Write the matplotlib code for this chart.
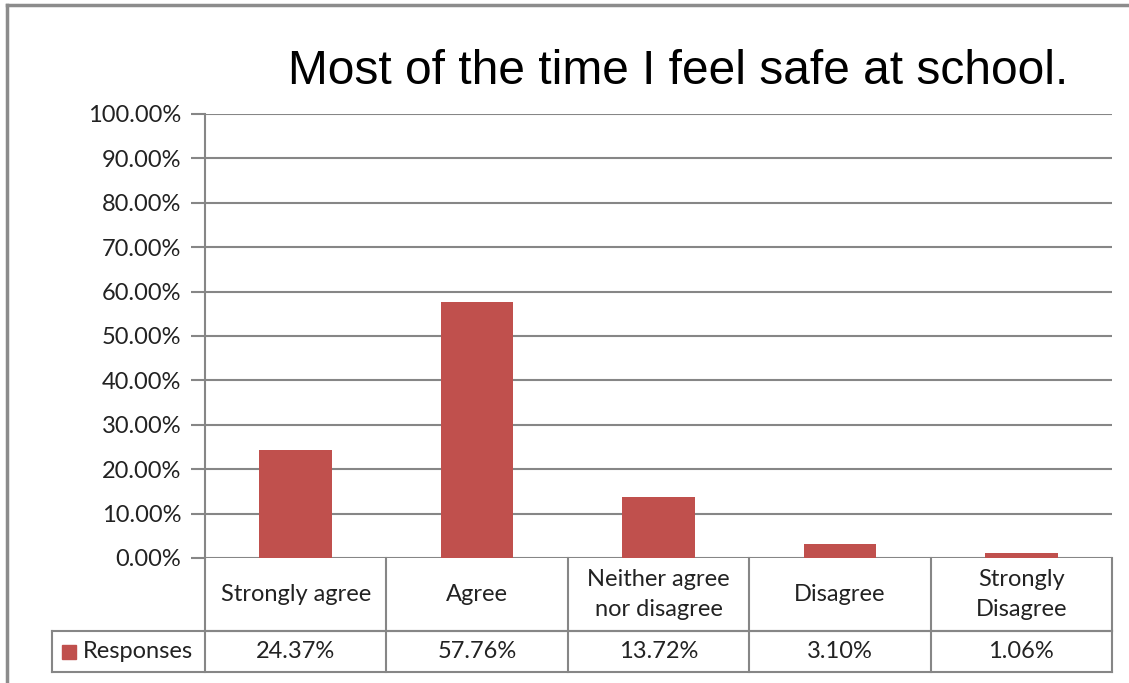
import matplotlib.pyplot as plt
from matplotlib.patches import Rectangle

categories = ["Strongly agree", "Agree", "Neither agree\nnor disagree", "Disagree", "Strongly\nDisagree"]
responses = [24.37, 57.76, 13.72, 3.10, 1.06]
value_labels = ["24.37%", "57.76%", "13.72%", "3.10%", "1.06%"]
yticks = [0, 10, 20, 30, 40, 50, 60, 70, 80, 90, 100]

W, H = 1129, 683
bar_color = "#C0504D"
grid_color = "#868686"
font = ["Lato", "DejaVu Sans"]
fs = 17

fig = plt.figure(figsize=(W / 100, H / 100), dpi=100)

# plot area in pixels
left, right, top, bottom = 205, 1112, 114, 558
ax = fig.add_axes([left / W, 1 - bottom / H, (right - left) / W, (bottom - top) / H])

x = list(range(len(categories)))
ax.bar(x, responses, width=0.4, color=bar_color, zorder=3)
ax.set_xlim(-0.5, len(categories) - 0.5)
ax.set_ylim(0, 100)
ax.set_yticks(yticks)
ax.set_yticklabels([f"{v:.2f}%" for v in yticks], fontsize=fs, family=font, color="#222222")
ax.set_xticks([])
ax.tick_params(axis="y", length=10, width=1.5, color=grid_color, pad=7)
ax.yaxis.grid(True, color=grid_color, linewidth=1.5, zorder=0)
for s in ["top", "right", "bottom"]:
    ax.spines[s].set_visible(False)
ax.spines["left"].set_color(grid_color)
ax.spines["left"].set_linewidth(1.5)

# data table below the axes (pixel -> axes fraction)
def fy(py):
    return (bottom - py) / (bottom - top)

def fx(px):
    return (px - left) / (right - left)

row1, row2 = 631, 672
lk = dict(color=grid_color, linewidth=1.5, transform=ax.transAxes, clip_on=False)
ax.plot([0, 1], [fy(row1), fy(row1)], **lk)
ax.plot([fx(52), 1], [fy(row1), fy(row1)], **lk)
ax.plot([fx(52), 1], [fy(row2), fy(row2)], **lk)
ax.plot([fx(52), fx(52)], [fy(row1), fy(row2)], **lk)
n = len(categories)
for i in range(n + 1):
    xx = i / n
    ax.plot([xx, xx], [0, fy(row2)], **lk)

for i in range(n):
    cx = (i + 0.5) / n
    ax.text(cx, fy((bottom + row1) / 2), categories[i], transform=ax.transAxes,
            ha="center", va="center", fontsize=fs, family=font, color="#222222",
            linespacing=1.55)
    ax.text(cx, fy((row1 + row2) / 2), value_labels[i], transform=ax.transAxes,
            ha="center", va="center", fontsize=fs, family=font, color="#222222")

# legend key in table
fig.patches.append(Rectangle((62 / W, 1 - 659 / H), 14 / W, 14 / H,
                             transform=fig.transFigure, color=bar_color))
fig.text(83 / W, 1 - 652 / H, "Responses", ha="left", va="center",
         fontsize=fs, family=font, color="#222222")

# title
fig.text(678 / W, 1 - 72 / H, "Most of the time I feel safe at school.",
         ha="center", va="center", fontsize=34.5, family=["Liberation Sans", "DejaVu Sans"])

# outer chart border (top and left visible)
fig.add_artist(plt.Line2D([7 / W, 7 / W], [0, 1 - 5 / H], color="#8c8c8c", linewidth=2.5,
                          transform=fig.transFigure))
fig.add_artist(plt.Line2D([7 / W, 1], [1 - 5 / H, 1 - 5 / H], color="#8c8c8c", linewidth=2.5,
                          transform=fig.transFigure))

fig.savefig("out.png", dpi=100)
